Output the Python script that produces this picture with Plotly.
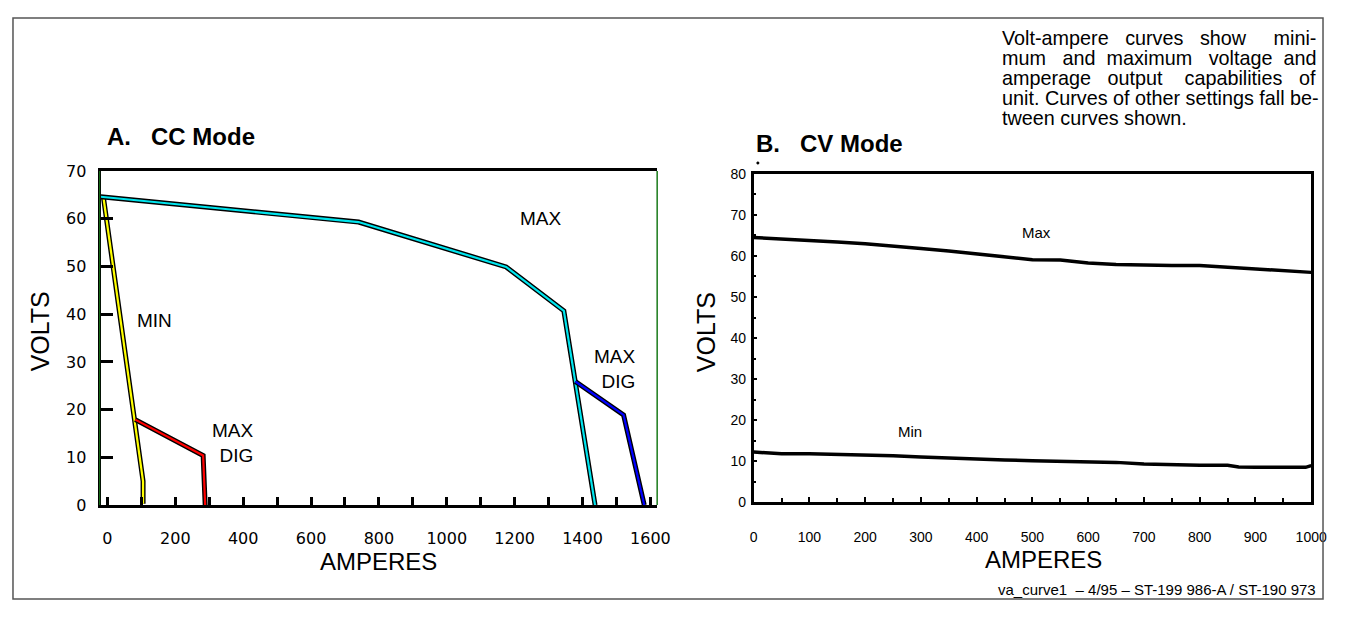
import plotly.graph_objects as go

# ---- Panel A: CC mode (amperes / volts) ----
cc_max_amps = [-20, 740, 1175, 1345, 1437]
cc_max_volts = [64.6, 59.3, 49.9, 40.7, 0]

cc_maxdig_hi_amps = [1379, 1521, 1582]
cc_maxdig_hi_volts = [25.9, 18.9, 0]

cc_min_amps = [-12, 105, 105]
cc_min_volts = [64.6, 5.0, 0.3]

cc_maxdig_lo_amps = [82, 282, 288]
cc_maxdig_lo_volts = [17.9, 10.4, 0]

cc_ticks = [0, 200, 400, 600, 800, 1000, 1200, 1400, 1600]

# ---- Panel B: CV mode ----
cv_max_amps = [0, 50, 100, 150, 200, 250, 300, 350, 400, 450, 500, 550, 600, 650, 700, 750, 800, 850, 900, 950, 1000]
cv_max_volts = [64.5, 64.2, 63.8, 63.4, 63.0, 62.5, 61.8, 61.2, 60.5, 59.6, 59.1, 59.0, 58.3, 57.9, 57.7, 57.7, 57.7, 57.3, 56.9, 56.4, 56.0]

cv_min_amps = [0, 50, 100, 150, 200, 250, 300, 350, 400, 450, 500, 550, 600, 650, 700, 750, 800, 850, 870, 900, 950, 990, 1000]
cv_min_volts = [12.2, 11.8, 11.8, 11.7, 11.5, 11.3, 11.0, 10.7, 10.5, 10.3, 10.1, 10.0, 9.8, 9.7, 9.3, 9.1, 9.0, 9.0, 8.6, 8.5, 8.5, 8.5, 8.9]

desc_lines = [
    "Volt-ampere   curves   show     mini-",
    "mum   and  maximum   voltage  and",
    "amperage   output    capabilities   of",
    "unit. Curves of other settings fall be-",
    "tween curves shown.",
]

# the page body keeps its 8px margin, so the figure is sized to fit inside it
PAGE_MARGIN = 8
W, H = 1348 - 2 * PAGE_MARGIN, 618 - 2 * PAGE_MARGIN


def px_x(p):
    return (p - PAGE_MARGIN) / W


def px_y(p):
    return 1 - (p - PAGE_MARGIN) / H


fig = go.Figure()


def outlined(x, y, color, xa="x", ya="y"):
    fig.add_trace(go.Scatter(x=x, y=y, mode="lines", xaxis=xa, yaxis=ya,
                             line=dict(color="black", width=5), hoverinfo="skip"))
    fig.add_trace(go.Scatter(x=x, y=y, mode="lines", xaxis=xa, yaxis=ya,
                             line=dict(color=color, width=2.2)))


outlined(cc_min_amps, cc_min_volts, "#ffff00")
outlined(cc_maxdig_lo_amps, cc_maxdig_lo_volts, "#ff0000")
outlined(cc_max_amps, cc_max_volts, "#00e5ee")
outlined(cc_maxdig_hi_amps, cc_maxdig_hi_volts, "#0000ff")

fig.add_trace(go.Scatter(x=cv_max_amps, y=cv_max_volts, mode="lines", xaxis="x2", yaxis="y2",
                         line=dict(color="black", width=3.5)))
fig.add_trace(go.Scatter(x=cv_min_amps, y=cv_min_volts, mode="lines", xaxis="x2", yaxis="y2",
                         line=dict(color="black", width=3.5)))

tickA = dict(family="DejaVu Sans", size=16, color="black")
tickB = dict(family="Liberation Sans, Arial", size=14, color="black")

fig.update_layout(
    width=W, height=H,
    margin=dict(l=0, r=0, t=0, b=0),
    paper_bgcolor="white", plot_bgcolor="white",
    showlegend=False,
    xaxis=dict(domain=[px_x(98), px_x(663)], anchor="y", range=[-20, 1620],
               tickvals=cc_ticks, ticks="inside", ticklen=8, tickwidth=2.5, tickcolor="black",
               minor=dict(ticks="inside", dtick=100, tick0=0, ticklen=8, tickwidth=2.5, tickcolor="black"),
               showline=True, linecolor="black", linewidth=3, mirror=True,
               showgrid=False, zeroline=False, tickfont=tickA, ticklabelstandoff=17),
    yaxis=dict(domain=[px_y(512), px_y(167)], anchor="x", range=[0, 70], dtick=10,
               ticks="inside", ticklen=12, tickwidth=3, tickcolor="black",
               showline=True, linecolor="black", linewidth=3,
               showgrid=False, zeroline=False, tickfont=tickA, ticklabelstandoff=8),
    xaxis2=dict(domain=[px_x(761), px_x(1327)], anchor="y2", range=[0, 1000], dtick=100,
                ticks="inside", ticklen=5, tickwidth=2, tickcolor="black",
                minor=dict(ticks="inside", dtick=50, ticklen=4, tickwidth=2, tickcolor="black"),
                showline=True, linecolor="black", linewidth=2.5, mirror=True,
                showgrid=False, zeroline=False, tickfont=tickB, ticklabelstandoff=20),
    yaxis2=dict(domain=[px_y(509), px_y(170)], anchor="x2", range=[0, 80], dtick=10,
                ticks="inside", ticklen=4, tickwidth=2, tickcolor="black",
                minor=dict(ticks="inside", dtick=5, ticklen=3, tickwidth=2, tickcolor="black"),
                showline=True, linecolor="black", linewidth=2.5, mirror=True,
                showgrid=False, zeroline=False, tickfont=tickB, ticklabelstandoff=2),
)

# frame and green edges of panel A
fig.add_shape(type="rect", xref="paper", yref="paper",
              x0=px_x(9), x1=px_x(1339), y0=px_y(609), y1=px_y(9),
              line=dict(color="#555555", width=1.5))
fig.add_shape(type="line", xref="paper", yref="paper",
              x0=px_x(663), x1=px_x(663), y0=px_y(512), y1=px_y(167),
              line=dict(color="#1a7a1a", width=1.5))
fig.add_shape(type="line", xref="paper", yref="paper",
              x0=px_x(97), x1=px_x(97), y0=px_y(512), y1=px_y(167),
              line=dict(color="#1a7a1a", width=1))
# stray dot above panel B
fig.add_shape(type="circle", xref="paper", yref="paper",
              x0=px_x(764), x1=px_x(766.5), y0=px_y(160), y1=px_y(157.5),
              fillcolor="black", line=dict(color="black", width=0.5))

narrow = dict(family="Liberation Sans Narrow, Arial Narrow, Liberation Sans", size=19, color="black")
arial = "Liberation Sans, Arial"


def note(text, x, y, font, xa="paper", ya="paper", xanchor="center", align="center", angle=0):
    fig.add_annotation(text=text, x=x, y=y, xref=xa, yref=ya, showarrow=False,
                       xanchor=xanchor, yanchor="middle", align=align, font=font, textangle=angle,
                       borderpad=0)


# curve labels
note("MAX", 1277, 60, narrow, "x", "y")
note("MIN", 140, 38.7, narrow, "x", "y")
note("MAX<br>DIG", 1495, 28.6, narrow, "x", "y", align="right")
note("MAX<br>DIG", 369, 13, narrow, "x", "y", align="right")
note("Max", 507, 65.6, dict(family=arial, size=15, color="black"), "x2", "y2")
note("Min", 280, 17.2, dict(family=arial, size=15, color="black"), "x2", "y2")

# titles
note("<b>A.   CC Mode</b>", px_x(103), px_y(131), dict(family=arial, size=24, color="black"), xanchor="left")
note("<b>B.   CV Mode</b>", px_x(762), px_y(139), dict(family=arial, size=24, color="black"), xanchor="left")

# axis titles
big = dict(family=arial, size=24, color="black")
note("VOLTS", px_x(36), px_y(333), dict(family=arial, size=25, color="black"), angle=-90)
note("AMPERES", px_x(380), px_y(570), big)
note("VOLTS", px_x(712), px_y(333), dict(family=arial, size=25, color="black"), angle=-90)
note("AMPERES", px_x(1055), px_y(568), big)

# description (one line per annotation, tight leading) and footer
for i, line in enumerate(desc_lines):
    note(line, px_x(1012), px_y(30 + 20.5 * i), dict(family=arial, size=19.8, color="black"),
         xanchor="left", align="left")
note("va_curve1  \u2013 4/95 \u2013 ST-199 986-A / ST-190 973", px_x(1333), px_y(599),
     dict(family=arial, size=15, color="black"), xanchor="right")

fig.write_html("out.html", config={"displayModeBar": False})
